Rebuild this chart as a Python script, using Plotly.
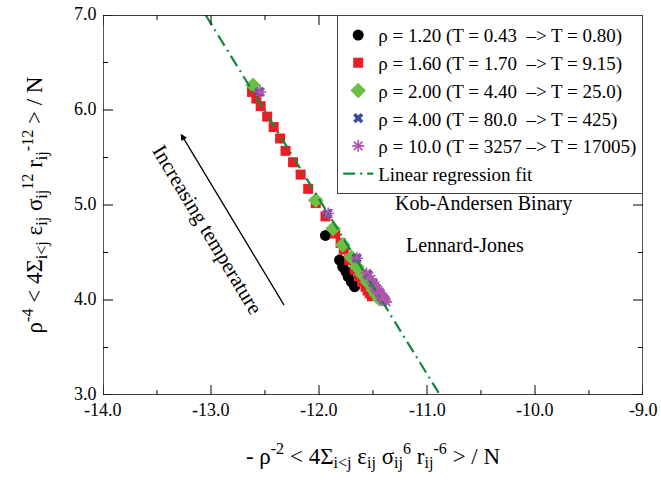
import plotly.graph_objects as go

# ---------------- data ----------------
rho120_x = [-11.94, -11.81, -11.78, -11.75, -11.73, -11.70, -11.67]
rho120_y = [4.68, 4.42, 4.35, 4.30, 4.245, 4.19, 4.14]

rho160_x = [-12.62, -12.58, -12.54, -12.48, -12.42, -12.36, -12.31, -12.24, -12.17,
            -12.10, -12.03, -11.94, -11.85, -11.80, -11.77, -11.72, -11.67, -11.63,
            -11.60, -11.57, -11.55, -11.53, -11.51]
rho160_y = [6.19, 6.12, 6.04, 5.93, 5.82, 5.70, 5.57, 5.45, 5.32,
            5.17, 5.02, 4.88, 4.70, 4.60, 4.53, 4.42, 4.32, 4.25,
            4.19, 4.14, 4.10, 4.07, 4.04]

rho200_x = [-12.61, -12.03, -11.87, -11.78, -11.70, -11.65, -11.60, -11.55, -11.50, -11.47, -11.44]
rho200_y = [6.26, 5.05, 4.75, 4.58, 4.45, 4.35, 4.27, 4.19, 4.11, 4.06, 4.01]

rho400_x = [-12.55, -11.92, -11.65, -11.55, -11.50, -11.47, -11.44, -11.42, -11.40]
rho400_y = [6.19, 4.91, 4.44, 4.27, 4.18, 4.12, 4.07, 4.03, 4.00]

rho1000_x = [-12.545, -11.915, -11.65, -11.56, -11.54, -11.52, -11.50, -11.48, -11.47,
             -11.45, -11.44, -11.43, -11.41, -11.40, -11.39, -11.38]
rho1000_y = [6.19, 4.91, 4.44, 4.28, 4.25, 4.22, 4.18, 4.15, 4.12,
             4.10, 4.08, 4.06, 4.03, 4.01, 4.00, 3.98]

fit_x = [-13.05, -10.88]
fit_y = [7.0, 3.0]

x_range = [-14.0, -9.0]
y_range = [3.0, 7.0]
x_major = [-14.0, -13.0, -12.0, -11.0, -10.0, -9.0]
x_minor = [-13.5, -12.5, -11.5, -10.5, -9.5]
y_major = [3.0, 4.0, 5.0, 6.0, 7.0]
y_minor = [3.5, 4.5, 5.5, 6.5]
x_labels = ["-14.0", "-13.0", "-12.0", "-11.0", "-10.0", "-9.0"]
y_labels = ["3.0", "4.0", "5.0", "6.0", "7.0"]

nb = "\u00a0"
names = [
    f"ρ = 1.20 (T = 0.43 {nb}–> T = 0.80)",
    f"ρ = 1.60 (T = 1.70 {nb}–> T = 9.15)",
    f"ρ = 2.00 (T = 4.40 {nb}–> T = 25.0)",
    f"ρ = 4.00 (T = 80.0 {nb}–> T = 425)",
    "ρ = 10.0 (T = 3257 –> T = 17005)",
    "Linear regression fit",
]

FONT = "Liberation Serif"
W, H = 661, 485
M = dict(l=103, r=18, t=15, b=90)

fig = go.Figure()
fig.add_trace(go.Scatter(x=rho120_x, y=rho120_y, mode="markers", name=names[0],
                         marker=dict(symbol="circle", size=11, color="black")))
fig.add_trace(go.Scatter(x=rho160_x, y=rho160_y, mode="markers", name=names[1],
                         marker=dict(symbol="square", size=10, color="#ee1c24")))
fig.add_trace(go.Scatter(x=rho200_x, y=rho200_y, mode="markers", name=names[2],
                         marker=dict(symbol="diamond", size=12, color="#6abf45")))
fig.add_trace(go.Scatter(x=rho400_x, y=rho400_y, mode="markers", name=names[3],
                         marker=dict(symbol="x", size=9, color="#3a4ea0",
                                     line=dict(width=0))))
fig.add_trace(go.Scatter(x=rho1000_x, y=rho1000_y, mode="markers", name=names[4],
                         marker=dict(symbol="asterisk-open", size=10, color="#b452b0",
                                     line=dict(width=1.6, color="#b452b0"))))
fig.add_trace(go.Scatter(x=fit_x, y=fit_y, mode="lines", name=names[5],
                         line=dict(color="#14893c", width=2.2, dash="12px,5px,2px,5px")))

# ---- frame and inward ticks (drawn as line traces on the same axes) ----
plot_w = W - M["l"] - M["r"]
plot_h = H - M["t"] - M["b"]
ux = (x_range[1] - x_range[0]) / plot_w   # data units per pixel
uy = (y_range[1] - y_range[0]) / plot_h

fig.add_trace(go.Scatter(
    x=[x_range[0], x_range[1], x_range[1], x_range[0], x_range[0]],
    y=[y_range[0], y_range[0], y_range[1], y_range[1], y_range[0]],
    mode="lines", line=dict(color="black", width=1.3), showlegend=False,
    hoverinfo="skip", cliponaxis=False))

tx, ty = [], []
for vals, ln in ((x_major, 10), (x_minor, 5)):
    for v in vals:
        tx += [v, v, None, v, v, None]
        ty += [y_range[0], y_range[0] + ln * uy, None, y_range[1], y_range[1] - ln * uy, None]
for vals, ln in ((y_major, 10), (y_minor, 5)):
    for v in vals:
        tx += [x_range[0], x_range[0] + ln * ux, None, x_range[1], x_range[1] - ln * ux, None]
        ty += [v, v, None, v, v, None]
fig.add_trace(go.Scatter(x=tx, y=ty, mode="lines", line=dict(color="black", width=1),
                         showlegend=False, hoverinfo="skip", cliponaxis=False,
                         connectgaps=False))

# ---- tick labels ----
for v, t in zip(x_major, x_labels):
    fig.add_annotation(x=v, y=0, xref="x", yref="paper", text=t, showarrow=False,
                       xanchor="center", yanchor="top", yshift=-3,
                       font=dict(family=FONT, size=18, color="black"))
for v, t in zip(y_major, y_labels):
    fig.add_annotation(x=0, y=v, xref="paper", yref="y", text=t, showarrow=False,
                       xanchor="right", yanchor="middle", xshift=-4, yshift=1,
                       font=dict(family=FONT, size=18, color="black"))

# arrow + rotated label
fig.add_annotation(x=-13.28, y=5.75, ax=-12.315, ay=3.93, xref="x", yref="y",
                   axref="x", ayref="y", showarrow=True, arrowhead=2, arrowsize=1,
                   arrowwidth=1.3, arrowcolor="black", text="")
fig.add_annotation(x=-13.03, y=4.74, xref="x", yref="y", text="Increasing temperature",
                   showarrow=False, textangle=59, font=dict(family=FONT, size=21, color="black"))
fig.add_annotation(x=-10.48, y=5.02, xref="x", yref="y", text="Kob-Andersen Binary",
                   showarrow=False, font=dict(family=FONT, size=20, color="black"))
fig.add_annotation(x=-10.65, y=4.58, xref="x", yref="y", text="Lennard-Jones",
                   showarrow=False, font=dict(family=FONT, size=20, color="black"))

axis_common = dict(autorange=False, automargin=False, showgrid=False, zeroline=False,
                   showline=False, ticks="", showticklabels=False)

fig.update_layout(
    width=W, height=H,
    margin=dict(**M, autoexpand=False),
    paper_bgcolor="white", plot_bgcolor="white",
    font=dict(family=FONT, color="black", size=18),
    showlegend=True,
    xaxis=dict(range=x_range,
               title=dict(text="- ρ<sup>-2</sup> &lt; 4Σ<sub>i&lt;j</sub> ε<sub>ij</sub> σ<sub>ij</sub><sup>6</sup> r<sub>ij</sub><sup>-6</sup> &gt; / N",
                          font=dict(family=FONT, size=23, color="black"), standoff=52),
               **axis_common),
    yaxis=dict(range=y_range,
               title=dict(text="ρ<sup>-4</sup> &lt; 4Σ<sub>i&lt;j</sub> ε<sub>ij</sub> σ<sub>ij</sub><sup>12</sup> r<sub>ij</sub><sup>-12</sup> &gt; / N",
                          font=dict(family=FONT, size=23, color="black"), standoff=52),
               **axis_common),
    legend=dict(x=1, xanchor="right", y=1, yanchor="top", bgcolor="white",
                bordercolor="#444", borderwidth=1.2,
                font=dict(family=FONT, size=19, color="black"),
                tracegroupgap=0, itemwidth=30),
)

fig.write_html("out.html", config={"displayModeBar": False},
               post_script="document.body.style.margin='0';")
